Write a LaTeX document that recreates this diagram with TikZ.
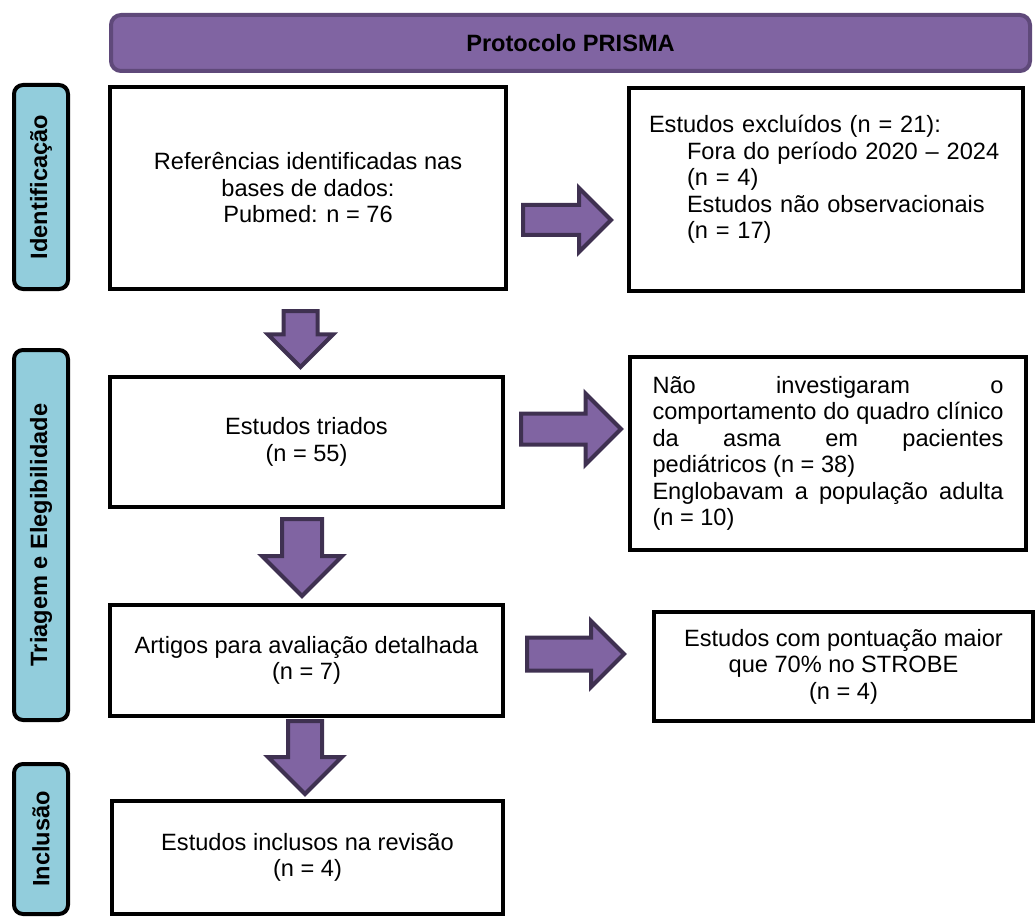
\documentclass[tikz,border=0pt]{standalone}
\usepackage{fontspec}
\setmainfont{Liberation Sans}
\usetikzlibrary{positioning,shapes.arrows}
\definecolor{prismapurple}{HTML}{8064A2}
\definecolor{prismaedge}{HTML}{5F497A}
\definecolor{arrowedge}{HTML}{3F3151}
\definecolor{stageblue}{HTML}{92CDDC}

\begin{document}
\begin{tikzpicture}[x=1pt, y=-1pt,
  every node/.style={font=\fontsize{23.6}{26.5}\selectfont},
  box/.style={draw, line width=4pt, inner sep=0pt, align=center},
  stage/.style={draw, line width=4pt, fill=stageblue, rounded corners=9pt,
    rotate=90, minimum height=54pt, font=\fontsize{23.6}{26.5}\selectfont\bfseries},
  fat/.style={single arrow, draw=arrowedge, fill=prismapurple, line width=4pt,
    inner sep=0pt, minimum width=0pt, text depth=0pt, single arrow tip angle=90,
    anchor=tail}
]
  \useasboundingbox (0,0) rectangle (1036,920);

  % Title bar
  \node[draw=prismaedge, line width=4pt, fill=prismapurple, rounded corners=10pt,
    minimum width=919pt, minimum height=56pt,
    font=\fontsize{23.6}{26.5}\selectfont\bfseries] (title) at (570.5,43) {Protocolo PRISMA};

  % Stages on the left
  \node[stage, minimum width=204pt] (ident) at (41,187) {Identificação};
  \node[stage, minimum width=370pt] (triag) at (41,535) {Triagem e Elegibilidade};
  \node[stage, minimum width=150pt] (incl) at (41,839) {Inclusão};

  % Main column
  \node[box, minimum width=396pt, minimum height=202pt] (refs) at (308,188)
    {Referências identificadas nas\\bases de dados:\\Pubmed: n = 76};
  \node[box, minimum width=393pt, minimum height=130pt] (triados) at (306.5,442)
    {Estudos triados\\(n = 55)};
  \node[box, minimum width=393pt, minimum height=111pt] (artigos) at (306.5,660.5)
    {Artigos para avaliação detalhada\\(n = 7)};
  \node[box, minimum width=391pt, minimum height=113pt] (inclusos) at (307.5,857.5)
    {Estudos inclusos na revisão\\(n = 4)};

  % Excluded studies
  \node[box, text width=354pt, align=left, text depth=131pt,
    minimum width=394pt, minimum height=203pt] (excl) at (826,189.5)
    {Estudos excluídos (n = 21):\\
     \hspace*{38pt}Fora do período 2020 – 2024\\
     \hspace*{38pt}(n = 4)\\
     \hspace*{38pt}Estudos não observacionais\\
     \hspace*{38pt}(n = 17)};
  \node[box, text width=351pt, align=justify,
    minimum width=396pt, minimum height=193pt] (naoinv) at (828,453.5)
    {Não investigaram o\linebreak comportamento do quadro clínico\linebreak
     da asma em pacientes\linebreak pediátricos (n = 38)\\
     Englobavam a população adulta\linebreak (n = 10)};
  \node[box, minimum width=379pt, minimum height=109pt] (strobe) at (843.5,666.5)
    {Estudos com pontuação maior\\que 70\% no STROBE\\(n = 4)};

  % Arrows to the right
  \node[fat, text height=26pt, single arrow head extend=17pt, minimum height=88pt] (r1) at (521,220) {};
  \node[fat, text height=27pt, single arrow head extend=20pt, minimum height=100pt] (r2) at (519,429) {};
  \node[fat, text height=29pt, single arrow head extend=16.5pt, minimum height=97pt] (r3) at (525,654) {};

  % Arrows down
  \node[fat, rotate=-90, text height=30pt, single arrow head extend=15.5pt, minimum height=56pt] (d1) at (300.5,309) {};
  \node[fat, rotate=-90, text height=36pt, single arrow head extend=20pt, minimum height=77pt] (d2) at (302,517) {};
  \node[fat, rotate=-90, text height=30pt, single arrow head extend=20pt, minimum height=73pt] (d3) at (305,719) {};

\end{tikzpicture}
\end{document}
